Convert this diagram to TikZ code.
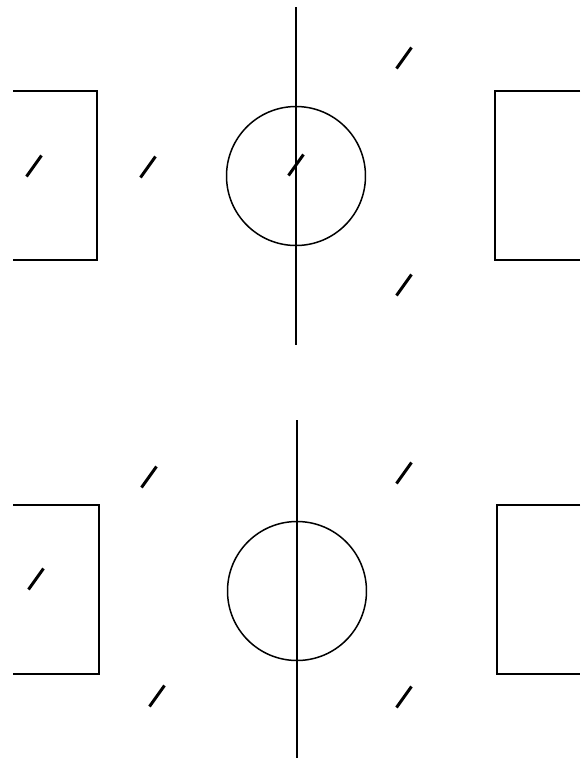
\documentclass[tikz,border=0pt]{standalone}
\usepackage{tikz}
\usetikzlibrary{calc}

\begin{document}
\begin{tikzpicture}[
    x=0.02cm, y=-0.02cm,
    line/.style={line width=0.85pt},
    player/.pic={\draw[line width=1.7pt] (-7.5,10.5) -- (7.5,-10.5);}
]
\useasboundingbox (0,0) rectangle (585,762);

% upper field
\coordinate (ctop) at (296,176);
\draw[line] (296,7) -- (296,345);
\draw[line] (ctop) circle[radius=69.5];
\draw[line] (13,91) -| (97,260) -- (13,260);
\draw[line] (580,91) -| (495,260) -- (580,260);

% upper players
\pic at (404,58) {player};
\pic at (34,166) {player};
\pic at (148,167) {player};
\pic at (296,165) {player};
\pic at (404,285) {player};

% lower field
\coordinate (cbot) at (297,591);
\draw[line] (297,420) -- (297,758);
\draw[line] (cbot) circle[radius=69.5];
\draw[line] (13,505) -| (99,674) -- (13,674);
\draw[line] (580,505) -| (497,674) -- (580,674);

% lower players
\pic at (149,477) {player};
\pic at (404,473) {player};
\pic at (36,579) {player};
\pic at (157,696) {player};
\pic at (404,697) {player};
\end{tikzpicture}
\end{document}
